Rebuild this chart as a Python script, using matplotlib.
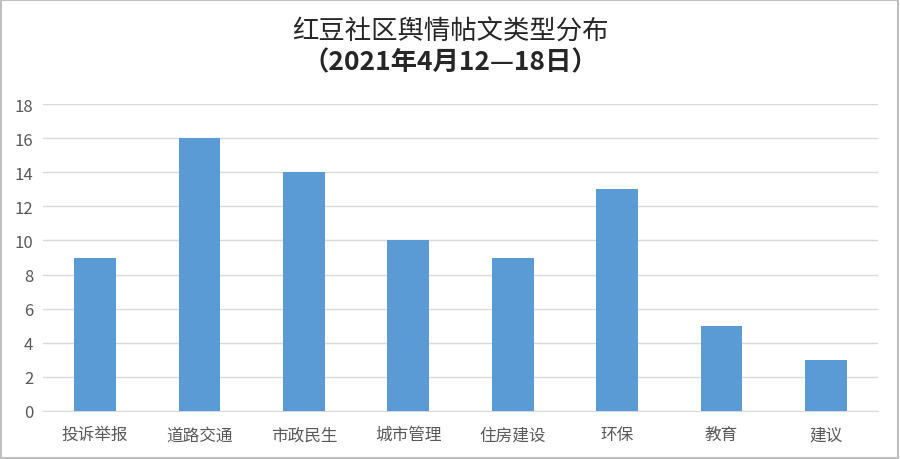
import matplotlib.pyplot as plt
from matplotlib.patches import Rectangle

plt.rcParams['font.family'] = ['Noto Sans CJK SC', 'DejaVu Sans']

categories = ['投诉举报', '道路交通', '市政民生', '城市管理', '住房建设', '环保', '教育', '建议']
counts = [9, 16, 14, 10, 9, 13, 5, 3]
yticks = [0, 2, 4, 6, 8, 10, 12, 14, 16, 18]

fig = plt.figure(figsize=(9, 4.6), dpi=100)
ax = fig.add_axes([43 / 900, 48 / 460, 835 / 900, 307 / 460])

x = range(len(categories))
ax.bar(x, counts, width=0.4, color='#5B9BD5', zorder=3)

ax.set_xlim(-0.5, len(categories) - 0.5)
ax.set_ylim(0, 18)
ax.set_yticks(yticks)
ax.set_xticks(list(x))
ax.set_xticklabels(categories, fontsize=12, color='#595959')
ax.tick_params(axis='y', labelsize=12, colors='#595959', length=0, pad=7)
ax.tick_params(axis='x', length=0, pad=11)
ax.grid(axis='y', color='#d9d9d9', linewidth=1, zorder=0)
for s in ['top', 'right', 'left']:
    ax.spines[s].set_visible(False)
ax.spines['bottom'].set_color('#d9d9d9')

fig.text(0.5, 1 - 32 / 460, '红豆社区舆情帖文类型分布', ha='center', va='center',
         fontsize=19, color='#262626')
fig.text(0.5, 1 - 63 / 460, '（2021年4月12—18日）', ha='center', va='center',
         fontsize=19, fontweight='bold', color='#262626')

fig.patches.append(Rectangle((0.001, 0.002), 0.997, 0.995, transform=fig.transFigure,
                             fill=False, edgecolor='#bfbfbf', linewidth=1.5))

fig.savefig('out.png', dpi=100)
